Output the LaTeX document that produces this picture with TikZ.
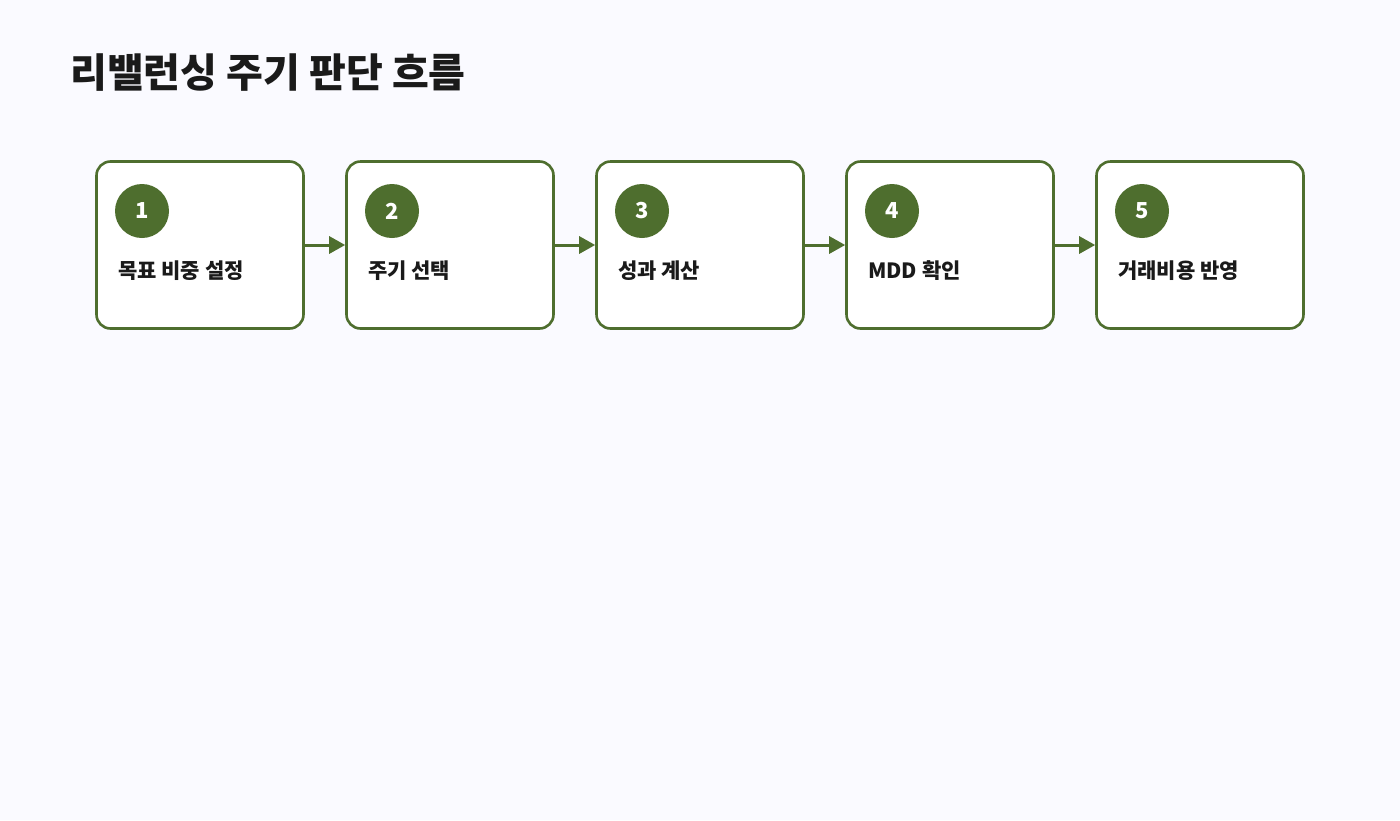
\documentclass[tikz,border=0pt]{standalone}
\usepackage{fontspec}
\setmainfont{Noto Sans CJK KR}
\usetikzlibrary{arrows.meta,positioning}
\definecolor{stepgreen}{HTML}{4E6E2E}
\definecolor{pagebg}{HTML}{FAFAFF}
\definecolor{ink}{HTML}{1A1A1A}
\tikzset{
  stepbox/.style={draw=stepgreen,line width=2.6pt,rounded corners=14pt,fill=white,
    minimum width=207pt,minimum height=167pt,inner sep=0pt},
  stepnum/.style={circle,fill=stepgreen,minimum size=54pt,inner sep=0pt,
    text=white,font=\fontsize{22}{22}\selectfont\bfseries},
  steplabel/.style={anchor=west,inner sep=0pt,text=ink,font=\fontsize{21}{21}\selectfont\bfseries},
  flow/.style={stepgreen,line width=3pt,-{Triangle[length=16pt,width=17pt]}}
}
\begin{document}
\begin{tikzpicture}[x=1pt,y=-1pt]
\fill[pagebg] (0,0) rectangle (1400,820);
\useasboundingbox (0,0) rectangle (1400,820);
\node[anchor=west,inner sep=0pt,text=ink,font=\fontsize{40}{40}\selectfont\bfseries] (title) at (70,73) {리밸런싱 주기 판단 흐름};
% steps
\foreach \i/\txt in {1/목표 비중 설정,2/주기 선택,3/성과 계산,4/MDD 확인,5/거래비용 반영}{
  \node[stepbox] (step\i) at ({200+250*(\i-1)},245) {};
  \node[stepnum] (num\i) at ({142+250*(\i-1)},211) {\i};
  \node[steplabel] (label\i) at ({118+250*(\i-1)},271) {\txt};
}
\foreach \i [evaluate=\i as \j using int(\i+1)] in {1,...,4}
  \draw[flow] (step\i.east) -- (step\j.west);
\end{tikzpicture}
\end{document}
